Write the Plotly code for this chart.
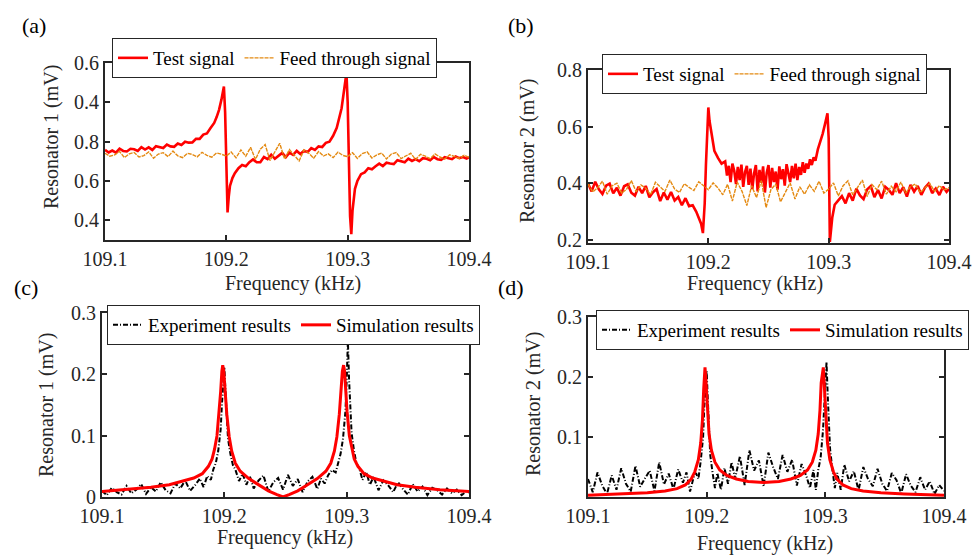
import plotly.graph_objects as go

# ---------- data ----------
freq_ticks = [109.1, 109.2, 109.3, 109.4]
freq_labels = ["109.1", "109.2", "109.3", "109.4"]

# (a) resonator 1, test signal
a_test_x = [
    109.100, 109.103, 109.106, 109.109, 109.112, 109.115, 109.118, 109.121, 109.124, 109.127,
    109.130, 109.133, 109.136, 109.139, 109.142, 109.145, 109.148, 109.151, 109.154, 109.157,
    109.160, 109.163, 109.166, 109.169, 109.172, 109.175, 109.178, 109.181, 109.184, 109.187,
    109.190, 109.192, 109.194, 109.196, 109.197, 109.198, 109.199, 109.200, 109.201, 109.202,
    109.203, 109.205, 109.207, 109.210, 109.213, 109.216, 109.219, 109.222, 109.225, 109.228,
    109.231, 109.234, 109.237, 109.240, 109.243, 109.246, 109.249, 109.252, 109.255, 109.258,
    109.261, 109.264, 109.267, 109.270, 109.273, 109.276, 109.279, 109.282, 109.285, 109.288,
    109.291, 109.293, 109.295, 109.297, 109.298, 109.299, 109.300, 109.301, 109.302, 109.303,
    109.304, 109.306, 109.308, 109.311, 109.314, 109.317, 109.320, 109.323, 109.326, 109.329,
    109.332, 109.335, 109.338, 109.341, 109.344, 109.347, 109.350, 109.353, 109.356, 109.359,
    109.362, 109.365, 109.368, 109.371, 109.374, 109.377, 109.380, 109.383, 109.386, 109.389,
    109.392, 109.395, 109.398, 109.400,
]
a_test_y = [
    0.758, 0.745, 0.755, 0.744, 0.764, 0.753, 0.750, 0.764, 0.761, 0.753,
    0.772, 0.760, 0.771, 0.758, 0.777, 0.774, 0.768, 0.785, 0.776, 0.774,
    0.791, 0.783, 0.800, 0.795, 0.796, 0.815, 0.814, 0.836, 0.842, 0.869,
    0.895, 0.925, 0.962, 1.015, 1.045, 1.080, 0.950, 0.700, 0.440, 0.520,
    0.575, 0.615, 0.640, 0.665, 0.681, 0.675, 0.696, 0.710, 0.695, 0.695,
    0.722, 0.711, 0.734, 0.713, 0.730, 0.743, 0.721, 0.744, 0.733, 0.753,
    0.737, 0.754, 0.747, 0.767, 0.758, 0.776, 0.773, 0.794, 0.800, 0.830,
    0.870, 0.915, 0.970, 1.060, 1.110, 1.150, 1.000, 0.700, 0.420, 0.330,
    0.450, 0.560, 0.600, 0.635, 0.644, 0.665, 0.660, 0.675, 0.688, 0.676,
    0.693, 0.689, 0.686, 0.706, 0.701, 0.695, 0.714, 0.702, 0.711, 0.701,
    0.716, 0.713, 0.706, 0.722, 0.711, 0.708, 0.721, 0.717, 0.711, 0.725,
    0.716, 0.722, 0.714, 0.721,
]

# feed through signals share one frequency grid
feed_x = [
    109.100, 109.104, 109.108, 109.112, 109.116, 109.120, 109.124, 109.128, 109.132, 109.136,
    109.140, 109.144, 109.148, 109.152, 109.156, 109.160, 109.164, 109.168, 109.172, 109.176,
    109.180, 109.184, 109.188, 109.192, 109.196, 109.200, 109.204, 109.208, 109.212, 109.216,
    109.220, 109.224, 109.228, 109.232, 109.236, 109.240, 109.244, 109.248, 109.252, 109.256,
    109.260, 109.264, 109.268, 109.272, 109.276, 109.280, 109.284, 109.288, 109.292, 109.296,
    109.300, 109.304, 109.308, 109.312, 109.316, 109.320, 109.324, 109.328, 109.332, 109.336,
    109.340, 109.344, 109.348, 109.352, 109.356, 109.360, 109.364, 109.368, 109.372, 109.376,
    109.380, 109.384, 109.388, 109.392, 109.396, 109.400,
]
a_feed_y = [
    0.741, 0.726, 0.733, 0.750, 0.719, 0.738, 0.745, 0.722, 0.729, 0.748,
    0.716, 0.737, 0.744, 0.724, 0.752, 0.728, 0.719, 0.741, 0.735, 0.723,
    0.746, 0.730, 0.721, 0.743, 0.736, 0.727, 0.747, 0.718, 0.758, 0.726,
    0.771, 0.709, 0.762, 0.785, 0.704, 0.748, 0.792, 0.712, 0.760, 0.731,
    0.702, 0.758, 0.741, 0.716, 0.750, 0.727, 0.738, 0.719, 0.747, 0.730,
    0.724, 0.744, 0.715, 0.739, 0.748, 0.717, 0.733, 0.742, 0.712, 0.737,
    0.745, 0.714, 0.728, 0.741, 0.709, 0.736, 0.726, 0.714, 0.738, 0.722,
    0.711, 0.733, 0.725, 0.715, 0.731, 0.720,
]
a_tick_vals = [0.4, 0.6, 0.8, 1.0, 1.2]
a_tick_text = ["0.4", "0.6", "0.8", "0.4", "0.6"]

# (b) resonator 2, test signal
b_test_x = [
    109.100, 109.103, 109.106, 109.109, 109.112, 109.115, 109.118, 109.121, 109.124, 109.127,
    109.130, 109.133, 109.136, 109.139, 109.142, 109.145, 109.148, 109.151, 109.154, 109.157,
    109.160, 109.163, 109.166, 109.169, 109.172, 109.175, 109.178, 109.181, 109.184, 109.187,
    109.190, 109.192, 109.194, 109.1955, 109.197, 109.198, 109.199, 109.200, 109.201, 109.203,
    109.205, 109.208, 109.211,
    109.2140, 109.2155, 109.2170, 109.2185, 109.2200, 109.2215, 109.2230, 109.2245, 109.2260, 109.2275,
    109.2290, 109.2305, 109.2320, 109.2335, 109.2350, 109.2365, 109.2380, 109.2395, 109.2410, 109.2425,
    109.2440, 109.2455, 109.2470, 109.2485, 109.2500, 109.2515, 109.2530, 109.2545, 109.2560, 109.2575,
    109.2590, 109.2605, 109.2620, 109.2635, 109.2650, 109.2665, 109.2680, 109.2695, 109.2710, 109.2725,
    109.2740, 109.2755, 109.2770, 109.2785, 109.2800, 109.2815, 109.2830, 109.2845, 109.2860, 109.2875,
    109.2890,
    109.291, 109.293, 109.295, 109.297, 109.299, 109.300, 109.301, 109.303, 109.305, 109.308,
    109.311,
    109.314, 109.317, 109.320, 109.323, 109.326, 109.329, 109.332, 109.335, 109.338, 109.341,
    109.344, 109.347, 109.350, 109.353, 109.356, 109.359, 109.362, 109.365, 109.368, 109.371,
    109.374, 109.377, 109.380, 109.383, 109.386, 109.389, 109.392, 109.395, 109.398, 109.400,
]
b_test_y = [
    0.400, 0.372, 0.406, 0.379, 0.363, 0.392, 0.399, 0.365, 0.385, 0.357,
    0.390, 0.397, 0.367, 0.357, 0.388, 0.366, 0.391, 0.351, 0.369, 0.380,
    0.338, 0.368, 0.343, 0.370, 0.340, 0.352, 0.323, 0.348, 0.320, 0.323,
    0.300, 0.280, 0.258, 0.225, 0.330, 0.465, 0.560, 0.668, 0.620, 0.560,
    0.515, 0.490, 0.470,
    0.478, 0.428, 0.462, 0.405, 0.470, 0.445, 0.398, 0.458, 0.412, 0.466,
    0.388, 0.440, 0.462, 0.395, 0.452, 0.380, 0.435, 0.465, 0.372, 0.448,
    0.402, 0.460, 0.368, 0.438, 0.465, 0.385, 0.455, 0.405, 0.442, 0.378,
    0.460, 0.415, 0.450, 0.392, 0.468, 0.428, 0.405, 0.462, 0.418, 0.470,
    0.412, 0.458, 0.430, 0.475, 0.438, 0.470, 0.452, 0.485, 0.465, 0.492,
    0.480,
    0.520, 0.545, 0.575, 0.610, 0.647, 0.560, 0.194, 0.280, 0.325, 0.340,
    0.355,
    0.330, 0.366, 0.339, 0.382, 0.358, 0.345, 0.379, 0.391, 0.352, 0.377,
    0.347, 0.388, 0.377, 0.360, 0.401, 0.366, 0.387, 0.354, 0.395, 0.371,
    0.391, 0.360, 0.385, 0.399, 0.366, 0.382, 0.359, 0.388, 0.370, 0.380,
]

# (b) resonator 2, feed through signal
b_feed_y = [
    0.398, 0.370, 0.385, 0.408, 0.362, 0.392, 0.401, 0.366, 0.379, 0.410,
    0.371, 0.395, 0.383, 0.360, 0.404, 0.389, 0.372, 0.412, 0.380, 0.368,
    0.399, 0.386, 0.375, 0.406, 0.391, 0.378, 0.402, 0.384, 0.360, 0.397,
    0.338, 0.405, 0.372, 0.322, 0.392, 0.350, 0.410, 0.315, 0.378, 0.398,
    0.335, 0.370, 0.402, 0.345, 0.388, 0.362, 0.395, 0.372, 0.408, 0.366,
    0.380, 0.402, 0.356, 0.392, 0.409, 0.360, 0.385, 0.412, 0.354, 0.396,
    0.378, 0.408, 0.362, 0.390, 0.371, 0.405, 0.366, 0.389, 0.398, 0.368,
    0.384, 0.400, 0.372, 0.392, 0.377, 0.386,
]

# (c) resonator 1, experiment
c_exp_x = [
    109.100, 109.104, 109.108, 109.112, 109.116, 109.120, 109.124, 109.128, 109.132, 109.136,
    109.140, 109.144, 109.148, 109.152, 109.156, 109.160, 109.164, 109.168, 109.172, 109.176,
    109.180, 109.183, 109.186, 109.189, 109.191, 109.193, 109.195, 109.197, 109.198, 109.199,
    109.200, 109.201, 109.202, 109.203, 109.205, 109.207, 109.209, 109.212, 109.215, 109.218,
    109.221, 109.224, 109.228, 109.232, 109.236, 109.240, 109.244, 109.248, 109.252, 109.256,
    109.260, 109.264, 109.268, 109.272, 109.276, 109.279, 109.282, 109.285, 109.288, 109.291,
    109.293, 109.295, 109.297, 109.299, 109.300, 109.301, 109.302, 109.303, 109.304, 109.306,
    109.308, 109.310, 109.313, 109.316, 109.319, 109.322, 109.326, 109.330, 109.334, 109.338,
    109.342, 109.346, 109.350, 109.354, 109.358, 109.362, 109.366, 109.370, 109.374, 109.378,
    109.382, 109.386, 109.390, 109.394, 109.398, 109.400,
]
c_exp_y = [
    0.010, 0.003, 0.015, 0.008, 0.004, 0.018, 0.006, 0.012, 0.021, 0.005,
    0.016, 0.009, 0.024, 0.011, 0.006, 0.022, 0.014, 0.027, 0.010, 0.019,
    0.030, 0.016, 0.034, 0.028, 0.045, 0.055, 0.075, 0.110, 0.150, 0.185,
    0.212, 0.170, 0.125, 0.095, 0.070, 0.052, 0.045, 0.026, 0.038, 0.020,
    0.033, 0.014, 0.027, 0.035, 0.009, 0.024, 0.031, 0.012, 0.036, 0.018,
    0.029, 0.008, 0.025, 0.033, 0.013, 0.030, 0.022, 0.036, 0.044, 0.040,
    0.055, 0.070, 0.095, 0.140, 0.190, 0.255, 0.190, 0.140, 0.105, 0.075,
    0.055, 0.048, 0.028, 0.041, 0.020, 0.033, 0.011, 0.027, 0.019, 0.008,
    0.024, 0.013, 0.004, 0.021, 0.009, 0.017, 0.003, 0.015, 0.011, 0.004,
    0.014, 0.006, 0.012, 0.003, 0.010, 0.007,
]

# (c) resonator 1, simulation
c_sim_x = [
    109.100, 109.120, 109.140, 109.155, 109.165, 109.175, 109.182, 109.187, 109.190, 109.192,
    109.194, 109.196, 109.197, 109.198, 109.1987, 109.1995, 109.2005, 109.202, 109.204, 109.206,
    109.209, 109.213, 109.220, 109.228, 109.236, 109.243, 109.248, 109.253, 109.260, 109.268,
    109.276, 109.283, 109.287, 109.290, 109.292, 109.294, 109.2955, 109.2965, 109.2975, 109.2983,
    109.2993, 109.3003, 109.3022, 109.3042, 109.3062, 109.3092, 109.3142, 109.3212, 109.3312, 109.3412,
    109.3562, 109.3762, 109.400,
]
c_sim_y = [
    0.009, 0.012, 0.016, 0.020, 0.025, 0.031, 0.038, 0.050, 0.062, 0.078,
    0.100, 0.140, 0.172, 0.205, 0.215, 0.205, 0.175, 0.135, 0.098, 0.075,
    0.055, 0.042, 0.030, 0.020, 0.010, 0.004, 0.000, 0.004, 0.010, 0.020,
    0.030, 0.042, 0.055, 0.075, 0.098, 0.135, 0.175, 0.205, 0.215, 0.205,
    0.172, 0.140, 0.100, 0.078, 0.062, 0.050, 0.038, 0.031, 0.025, 0.020,
    0.016, 0.012, 0.009,
]

# (d) resonator 2, experiment
d_exp_x = [
    109.100, 109.104, 109.108, 109.112, 109.116, 109.120, 109.124, 109.128, 109.132, 109.136,
    109.140, 109.144, 109.148, 109.152, 109.156, 109.160, 109.164, 109.168, 109.172, 109.176,
    109.180, 109.183, 109.186, 109.189, 109.191, 109.193, 109.195, 109.197, 109.198, 109.199,
    109.200, 109.201, 109.202, 109.203, 109.205, 109.207, 109.209, 109.212, 109.215, 109.218,
    109.221, 109.224, 109.228, 109.232, 109.236, 109.240, 109.244, 109.248, 109.252, 109.256,
    109.260, 109.264, 109.268, 109.272, 109.276, 109.280, 109.284, 109.287, 109.290, 109.292,
    109.294, 109.296, 109.298, 109.299, 109.300, 109.301, 109.302, 109.303, 109.304, 109.306,
    109.308, 109.310, 109.313, 109.316, 109.320, 109.324, 109.328, 109.332, 109.336, 109.340,
    109.344, 109.348, 109.352, 109.356, 109.360, 109.364, 109.368, 109.372, 109.376, 109.380,
    109.384, 109.388, 109.392, 109.396, 109.400,
]
d_exp_y = [
    0.030, 0.008, 0.041, 0.019, 0.005, 0.036, 0.012, 0.048, 0.022, 0.009,
    0.052, 0.017, 0.031, 0.044, 0.010, 0.058, 0.021, 0.039, 0.013, 0.046,
    0.024, 0.041, 0.009, 0.033, 0.040, 0.030, 0.060, 0.100, 0.150, 0.190,
    0.210, 0.160, 0.110, 0.070, 0.040, 0.015, 0.040, 0.012, 0.048, 0.022,
    0.058, 0.031, 0.068, 0.020, 0.078, 0.044, 0.061, 0.018, 0.074, 0.050,
    0.030, 0.070, 0.042, 0.062, 0.019, 0.055, 0.035, 0.015, 0.045, 0.012,
    0.045, 0.065, 0.110, 0.150, 0.190, 0.225, 0.170, 0.120, 0.080, 0.045,
    0.015, 0.040, 0.012, 0.054, 0.026, 0.043, 0.011, 0.050, 0.030, 0.018,
    0.047, 0.022, 0.010, 0.040, 0.028, 0.006, 0.038, 0.019, 0.008, 0.033,
    0.012, 0.026, 0.005, 0.020, 0.010,
]

# (d) resonator 2, simulation
d_sim_x = [
    109.100, 109.130, 109.150, 109.165, 109.175, 109.182, 109.187, 109.190, 109.193, 109.195,
    109.1965, 109.1975, 109.1986, 109.1995, 109.2005, 109.202, 109.204, 109.207, 109.211, 109.217,
    109.225, 109.235, 109.248, 109.261, 109.271, 109.279, 109.285, 109.289, 109.292, 109.294,
    109.2955, 109.2965, 109.2983, 109.2993, 109.3003, 109.3018, 109.3038, 109.3068, 109.3098, 109.3148,
    109.3218, 109.3318, 109.3468, 109.3668, 109.400,
]
d_sim_y = [
    0.003, 0.005, 0.007, 0.010, 0.014, 0.020, 0.030, 0.042, 0.062, 0.090,
    0.130, 0.180, 0.216, 0.190, 0.145, 0.105, 0.078, 0.058, 0.045, 0.036,
    0.030, 0.026, 0.024, 0.026, 0.030, 0.036, 0.045, 0.058, 0.078, 0.105,
    0.145, 0.190, 0.216, 0.180, 0.130, 0.090, 0.062, 0.042, 0.030, 0.020,
    0.014, 0.010, 0.007, 0.005, 0.003,
]

# ---------- styling ----------
FONT = "Liberation Serif, Times New Roman, serif"
INK = "#262626"
RED = "#FF0000"
ORANGE = "#E48A12"

W, H = 980, 556
OFF = 8  # the page body adds an 8px margin, so shift everything up-left by that much


def px_x(v):
    return (v - OFF) / W


def px_y(v):
    return 1 - (v - OFF) / H


test_line = dict(color=RED, width=2.6)
feed_line = dict(color=ORANGE, width=1.4, dash="4px,1px")
exp_line = dict(color="black", width=2, dash="5px,2px,1px,2px")
sim_line = dict(color=RED, width=3)

fig = go.Figure()

fig.add_trace(go.Scatter(x=a_test_x, y=a_test_y, mode="lines", name="Test signal",
                         line=test_line, xaxis="x", yaxis="y", legend="legend"))
fig.add_trace(go.Scatter(x=feed_x, y=a_feed_y, mode="lines", name="Feed through signal",
                         line=feed_line, xaxis="x", yaxis="y", legend="legend"))
fig.add_trace(go.Scatter(x=b_test_x, y=b_test_y, mode="lines", name="Test signal",
                         line=test_line, xaxis="x2", yaxis="y2", legend="legend2"))
fig.add_trace(go.Scatter(x=feed_x, y=b_feed_y, mode="lines", name="Feed through signal",
                         line=feed_line, xaxis="x2", yaxis="y2", legend="legend2"))
fig.add_trace(go.Scatter(x=c_exp_x, y=c_exp_y, mode="lines", name="Experiment results",
                         line=exp_line, xaxis="x3", yaxis="y3", legend="legend3"))
fig.add_trace(go.Scatter(x=c_sim_x, y=c_sim_y, mode="lines", name="Simulation results",
                         line=sim_line, xaxis="x3", yaxis="y3", legend="legend3"))
fig.add_trace(go.Scatter(x=d_exp_x, y=d_exp_y, mode="lines", name="Experiment results",
                         line=exp_line, xaxis="x4", yaxis="y4", legend="legend4"))
fig.add_trace(go.Scatter(x=d_sim_x, y=d_sim_y, mode="lines", name="Simulation results",
                         line=sim_line, xaxis="x4", yaxis="y4", legend="legend4"))

axis_common = dict(
    showgrid=False, zeroline=False, showline=True, linecolor=INK, linewidth=2,
    mirror="ticks", ticks="inside", ticklen=5, tickwidth=1.5, tickcolor=INK,
    tickfont=dict(family=FONT, size=20, color=INK), automargin=False,
)
x_common = dict(axis_common, range=[109.1, 109.4], tickvals=freq_ticks, ticktext=freq_labels)

panels = [
    # x extent and (top, bottom) extent of each plot area, in reference pixels
    ((105, 469), (63, 240)),
    ((588, 949), (70, 243)),
    ((102, 469), (313, 497)),
    ((588, 944), (317, 497)),
]
y_specs = [
    dict(range=[0.3, 1.2], tickvals=a_tick_vals, ticktext=a_tick_text),
    dict(range=[0.19, 0.8], tickvals=[0.2, 0.4, 0.6, 0.8], ticktext=["0.2", "0.4", "0.6", "0.8"]),
    dict(range=[0, 0.3], tickvals=[0, 0.1, 0.2, 0.3], ticktext=["0", "0.1", "0.2", "0.3"]),
    dict(range=[0, 0.3], tickvals=[0.1, 0.2, 0.3], ticktext=["0.1", "0.2", "0.3"]),
]

layout = dict(
    width=W, height=H, margin=dict(l=0, r=0, t=0, b=0, autoexpand=False),
    plot_bgcolor="white", paper_bgcolor="white",
    font=dict(family=FONT, color=INK),
)
for i, ((x0, x1), (yt, yb)) in enumerate(panels):
    sfx = "" if i == 0 else str(i + 1)
    layout["xaxis" + sfx] = dict(x_common, domain=[px_x(x0), px_x(x1)], anchor="y" + sfx)
    layout["yaxis" + sfx] = dict(axis_common, **y_specs[i], domain=[px_y(yb), px_y(yt)],
                                 anchor="x" + sfx)

# left edge and vertical centre of each legend box
legend_pos = [(112, 58), (602, 74), (107, 325), (596, 330)]
for i, (lx, ly) in enumerate(legend_pos):
    key = "legend" if i == 0 else "legend" + str(i + 1)
    layout[key] = dict(
        x=px_x(lx), y=px_y(ly), xanchor="left", yanchor="middle", orientation="h",
        bgcolor="white", bordercolor=INK, borderwidth=1,
        font=dict(family=FONT, size=19, color="black"),
        itemwidth=30, tracegroupgap=0,
    )

fig.update_layout(**layout)

annots = []


def label(txt, ax, ay, size, angle=0, color=INK):
    annots.append(dict(text=txt, x=px_x(ax), y=px_y(ay), xref="paper", yref="paper",
                       xanchor="center", yanchor="middle", showarrow=False, textangle=angle,
                       font=dict(family=FONT, size=size, color=color)))


# panel letters
for txt, ax, ay in [("(a)", 34, 25), ("(b)", 521, 25), ("(c)", 26, 287), ("(d)", 511, 287)]:
    label(txt, ax, ay, 22, color="black")
# y titles
for txt, ax, ay in [("Resonator 1 (mV)", 51, 137), ("Resonator 2 (mV)", 528, 151),
                    ("Resonator 1 (mV)", 46, 405), ("Resonator 2 (mV)", 533, 404)]:
    label(txt, ax, ay, 20, angle=-90)
# x titles
for ax, ay in [(293, 283), (755, 283), (285, 537), (765, 543)]:
    label("Frequency (kHz)", ax, ay, 20)

fig.update_layout(annotations=annots)

fig.write_html("out.html")
